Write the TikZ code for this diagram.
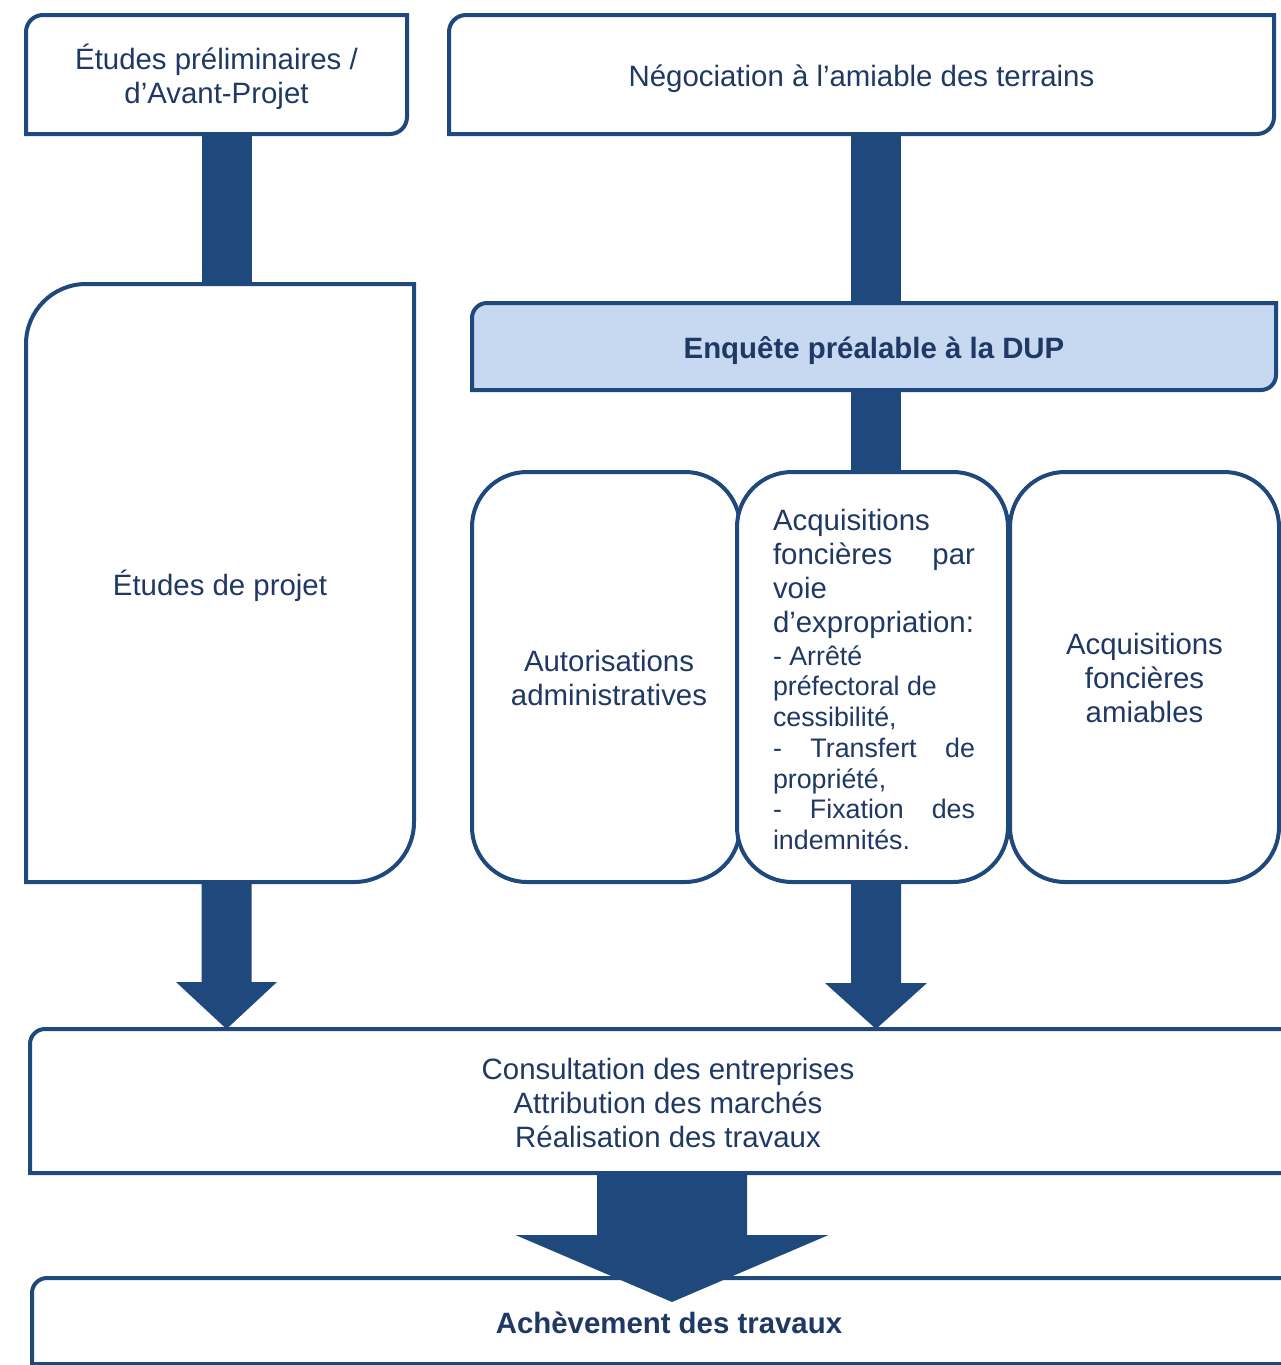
\documentclass[tikz,border=0pt]{standalone}
\usepackage{fontspec}
\setmainfont{Liberation Sans}
\usetikzlibrary{calc,backgrounds}
\definecolor{navy}{HTML}{1F497D}
\definecolor{txt}{HTML}{1F3864}
\definecolor{lightb}{HTML}{C6D9F1}

\newcommand\tlbrframe[3][]{%
  \draw[frame,#1] (#2.south west) -- ($(#2.north west)+(0,#3)$)
    .. controls ($(#2.north west)+(0,0.448*#3)$) and ($(#2.north west)+(0.448*#3,0)$) .. ($(#2.north west)+(#3,0)$)
    -- (#2.north east) -- ($(#2.south east)+(0,-#3)$)
    .. controls ($(#2.south east)+(0,-0.448*#3)$) and ($(#2.south east)+(-0.448*#3,0)$) .. ($(#2.south east)+(-#3,0)$)
    -- cycle;}

\newcommand\blockarrow[5]{%
  \fill[navy] ($(#1)+(-#3,0)$) -- ($(#2)+(-#3,-#5)$) -- ($(#2)+(-#4,-#5)$) -- (#2)
    -- ($(#2)+(#4,-#5)$) -- ($(#2)+(#3,-#5)$) -- ($(#1)+(#3,0)$) -- cycle;}

% push the first line down (extra height above it)
\newcommand\dn[2][6pt]{\raisebox{0pt}[\dimexpr\height+#1\relax]{#2}}

\begin{document}
\begin{tikzpicture}[x=1pt,y=-1pt,
  lbl/.style={inner sep=0pt, outer sep=0pt, text=txt, font=\fontsize{29.4}{34}\selectfont, align=center, anchor=north west},
  frame/.style={draw=navy, line width=4pt, line join=miter},
  rbox/.style={lbl, draw=navy, line width=4pt, fill=white, rounded corners=55pt}]

\useasboundingbox (0,0) rectangle (1281,1365);

% nodes
\node[lbl, minimum width=381pt, minimum height=119pt] (A) at (26,15) {\dn[4pt]{Études préliminaires /}\\d’Avant-Projet};
\node[lbl, minimum width=825pt, minimum height=119pt] (B) at (449,15) {\dn[8pt]{Négociation à l’amiable des terrains}};
\node[lbl, minimum width=388pt, minimum height=598pt] (C) at (26,284) {\dn[6pt]{Études de projet}};
\node[lbl, minimum width=804pt, minimum height=87pt, font=\fontsize{29.4}{34}\selectfont\bfseries] (D) at (472,303) {\dn[8pt]{Enquête préalable à la DUP}};
\node[rbox, minimum width=268pt, minimum height=410pt] (E) at (472,472) {\hspace*{6pt}\dn[2pt]{Autorisations}\\\hspace*{6pt}administratives};
\node[rbox, minimum width=271pt, minimum height=410pt] (F) at (737,472) {%
  \hspace*{3pt}\begin{minipage}{202pt}\color{txt}\raggedright
  \vspace*{5pt}%
  \fontsize{29.4}{34}\selectfont Acquisitions\\
  foncières\hfill par\\
  voie\\
  d’expropriation:\par\vspace{2pt}
  \fontsize{26.8}{30.7}\selectfont - Arrêté\\
  préfectoral de\\
  cessibilité,\\
  -\hfill Transfert\hfill de\\
  propriété,\\
  -\hfill Fixation\hfill des\\
  indemnités.\par
  \end{minipage}};
\node[rbox, minimum width=269pt, minimum height=410pt] (G) at (1010,472) {\dn[2pt]{Acquisitions}\\foncières\\amiables};
\node[lbl, minimum width=1276pt, minimum height=144pt] (H) at (30,1029) {\dn[4pt]{Consultation des entreprises}\\Attribution des marchés\\Réalisation des travaux};
\node[lbl, minimum width=1274pt, minimum height=86pt, font=\fontsize{29.4}{34}\selectfont\bfseries] (I) at (32,1278) {\dn[4pt]{Achèvement des travaux}};

% frames behind text
\begin{pgfonlayer}{background}
  \fill[white] (0,0) rectangle (1281,1365);
  \tlbrframe{A}{17}
  \tlbrframe{B}{17}
  \tlbrframe{C}{60}
  \tlbrframe[fill=lightb]{D}{15}
  \tlbrframe{H}{15}
  \tlbrframe{I}{15}
\end{pgfonlayer}

% connectors
\coordinate (a1) at ([xshift=10pt]A.south);
\fill[navy] ($(a1)+(-25,0)$) rectangle ($(a1 |- C.north)+(25,0)$);
\coordinate (b1) at ([xshift=14.5pt]B.south);
\fill[navy] ($(b1)+(-25,0)$) rectangle ($(b1 |- D.north)+(25,0)$);
\coordinate (d1) at ([xshift=1.5pt]D.south);
\fill[navy] ($(d1)+(-25,0)$) rectangle ($(d1 |- F.north)+(25,0)$);

\coordinate (c1) at ([xshift=6.5pt]C.south);
\coordinate (c2) at (c1 |- H.north);
\blockarrow{c1}{c2}{25}{50.5}{47}
\coordinate (f1) at ([xshift=3.5pt]F.south);
\coordinate (f2) at (f1 |- H.north);
\blockarrow{f1}{f2}{25}{51}{46}
\coordinate (h1) at ([xshift=4pt]H.south);
\coordinate (h2) at ($(h1 |- I.north)+(0,24)$);
\blockarrow{h1}{h2}{75}{156.5}{67}

\end{tikzpicture}
\end{document}
